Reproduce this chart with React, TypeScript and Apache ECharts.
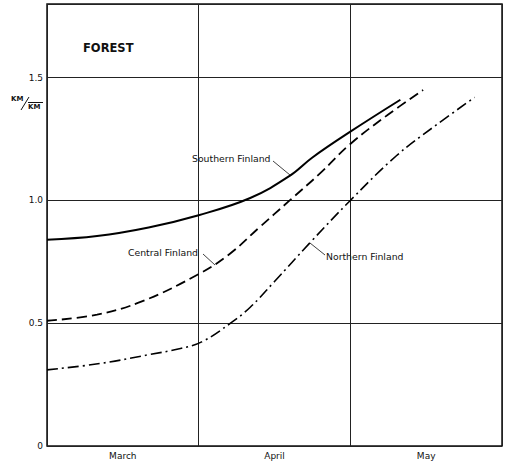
import React, { useEffect, useRef } from "react";
import * as echarts from "echarts";

const months = ["March", "April", "May"];
const yTicks = [0, 0.5, 1.0, 1.5];

// x in months from start of March (0..3), y in KM/KM
const southern: [number, number][] = [
  [0, 0.84], [0.33, 0.855], [0.67, 0.89], [1.0, 0.94], [1.34, 1.01],
  [1.6, 1.1], [1.75, 1.175], [2.0, 1.28], [2.33, 1.41],
];
const central: [number, number][] = [
  [0, 0.51], [0.33, 0.535], [0.63, 0.59], [1.0, 0.7], [1.2, 0.78],
  [1.4, 0.89], [1.6, 1.0], [1.8, 1.11], [2.0, 1.23], [2.25, 1.35], [2.48, 1.45],
];
const northern: [number, number][] = [
  [0, 0.31], [0.35, 0.336], [0.68, 0.373], [0.88, 0.397], [1.02, 0.424], [1.21, 0.5],
  [1.34, 0.565], [1.5, 0.67], [1.73, 0.825], [2.0, 1.0], [2.3, 1.18],
  [2.55, 1.3], [2.82, 1.42],
];

const FONT = "DejaVu Sans";

export default function App() {
  const ref = useRef<HTMLDivElement>(null);
  useEffect(() => {
    if (!ref.current) return;
    const chart = echarts.init(ref.current, null, { renderer: "svg" });
    const lineBase = { type: "line", xAxisIndex: 1, yAxisIndex: 0, showSymbol: false, symbol: "none", smooth: 0.4 };
    const txt = { fill: "#111", font: `9.3px "${FONT}"` };
    chart.setOption({
      animation: false,
      backgroundColor: "#fff",
      grid: {
        left: 47, right: 4, top: 4, bottom: 18,
        show: true, borderColor: "#111", borderWidth: 1.5, backgroundColor: "transparent",
      },
      xAxis: [
        {
          type: "category",
          data: months,
          boundaryGap: true,
          axisLine: { show: false },
          axisTick: { show: false },
          axisLabel: { interval: 0, margin: 5, color: "#111", fontFamily: FONT, fontSize: 9 },
          splitLine: { show: true, interval: 0, lineStyle: { color: "#222", width: 1 } },
        },
        { type: "value", min: 0, max: 3, show: false, splitLine: { show: false } },
      ],
      yAxis: {
        type: "value",
        min: 0,
        max: 1.8,
        interval: 0.5,
        axisLine: { show: false },
        axisTick: { show: false },
        axisLabel: {
          margin: 4, color: "#111", fontFamily: FONT, fontSize: 9,
          formatter: (v: number) => {
            const t = yTicks.find((k) => Math.abs(k - v) < 1e-6);
            if (t === undefined) return "";
            return t === 0 ? "0" : t.toFixed(1);
          },
        },
        splitLine: { show: true, lineStyle: { color: "#222", width: 1 } },
      },
      series: [
        { ...lineBase, name: "Southern Finland", data: southern, lineStyle: { color: "#000", width: 2, type: "solid" } },
        { ...lineBase, name: "Central Finland", data: central, lineStyle: { color: "#000", width: 1.8, type: [10, 5] } },
        { ...lineBase, name: "Northern Finland", data: northern, lineStyle: { color: "#000", width: 1.6, type: [11, 4, 2, 4] } },
      ],
      graphic: [
        { type: "text", left: 83, top: 42, style: { text: "FOREST", fill: "#111", font: `bold 11.5px "${FONT}"` } },
        { type: "text", left: 11, top: 95, style: { text: "KM", fill: "#111", font: `bold 7px "${FONT}"` } },
        { type: "line", shape: { x1: 21, y1: 110, x2: 29, y2: 97 }, style: { stroke: "#111", lineWidth: 1 } },
        { type: "text", left: 28, top: 103, style: { text: "KM", fill: "#111", font: `bold 7px "${FONT}"` } },
        { type: "line", shape: { x1: 28, y1: 102.5, x2: 43, y2: 102.5 }, style: { stroke: "#111", lineWidth: 1 } },
        { type: "text", left: 192, top: 154, style: { text: "Southern Finland", ...txt } },
        { type: "line", shape: { x1: 273, y1: 161, x2: 290, y2: 175 }, style: { stroke: "#111", lineWidth: 0.8 } },
        { type: "text", left: 128, top: 248, style: { text: "Central Finland", ...txt } },
        { type: "line", shape: { x1: 203, y1: 254, x2: 215, y2: 265 }, style: { stroke: "#111", lineWidth: 0.8 } },
        { type: "text", left: 326, top: 252, style: { text: "Northern Finland", ...txt } },
        { type: "line", shape: { x1: 325, y1: 255, x2: 310, y2: 243 }, style: { stroke: "#111", lineWidth: 0.8 } },
      ],
    });
    return () => chart.dispose();
  }, []);
  return <div ref={ref} style={{ width: 506, height: 464, position: "absolute", left: 0, top: 0 }} />;
}
